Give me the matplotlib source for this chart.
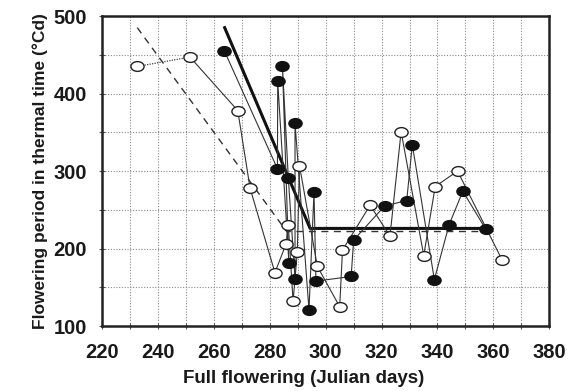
import matplotlib
matplotlib.use("Agg")
import matplotlib.pyplot as plt
from matplotlib.path import Path
from matplotlib.transforms import Affine2D
import numpy as np

plt.rcParams['font.family'] = ['Liberation Sans', 'DejaVu Sans']

# open circles (one series, joined in order)
open_day = [232.5, 251.4, 268.5, 272.9, 281.8, 285.8, 286.6, 288.3, 289.8, 290.6,
            297.0, 305.0, 306.0, 315.9, 323.0, 327.0, 335.1, 339.2, 347.2, 363.2]
open_tt = [435, 447, 378, 278, 169, 206, 230, 132, 195, 307,
           177, 125, 198, 256, 216, 351, 191, 280, 300, 185]

# filled circles
fill_day = [263.7, 282.7, 282.8, 286.8, 284.5, 286.6, 289.0, 289.0, 294.0, 295.8,
            296.5, 309.1, 310.0, 321.1, 329.0, 331.0, 338.9, 344.2, 349.1, 357.3]
fill_tt = [455, 303, 416, 182, 435, 291, 161, 362, 121, 273,
           158, 164, 211, 255, 262, 334, 160, 231, 274, 225]

# fitted broken lines
thick_day = [263.8, 294.4, 357.3]
thick_tt = [485, 226, 226]
dash_day = [232.5, 286.0, 361.0]
dash_tt = [485, 222, 222]

x_ticks = [220, 240, 260, 280, 300, 320, 340, 360, 380]
y_ticks = [100, 200, 300, 400, 500]

# horizontally stretched circle marker
ell = Path.unit_circle().transformed(Affine2D().scale(1.35, 1.0))

fig = plt.figure(figsize=(5.75, 3.91), dpi=100)
ax = fig.add_axes([0.178, 0.166, 0.777, 0.793])

ax.set_xlim(220, 380)
ax.set_ylim(100, 500)
ax.set_xticks(np.arange(220, 381, 10), minor=True)
ax.set_yticks(np.arange(100, 501, 50), minor=True)
ax.set_xticks(x_ticks)
ax.set_yticks(y_ticks)
ax.grid(True, which='both', color='#8a8a8a', linestyle=(0, (1, 1.5)), linewidth=0.8)
ax.set_axisbelow(True)

ax.plot(dash_day, dash_tt, color='#333333', linestyle=(0, (5, 4)), linewidth=1.0, zorder=2)
ax.plot(thick_day, thick_tt, color='#111111', linewidth=2.2, zorder=2)

# first open pair joined by a dotted line
ax.plot(open_day[:2], open_tt[:2], color='#444444', linestyle=(0, (1, 1)), linewidth=0.9, zorder=3)
ax.plot(open_day[1:], open_tt[1:], color='#333333', linewidth=0.8, zorder=3)
ax.plot(fill_day, fill_tt, color='#333333', linewidth=0.8, zorder=3)

ax.plot(open_day, open_tt, linestyle='none', marker=ell, markersize=9.5,
        markerfacecolor='white', markeredgecolor='#222222', markeredgewidth=1.0, zorder=4)
ax.plot(fill_day, fill_tt, linestyle='none', marker=ell, markersize=9.5,
        markerfacecolor='#111111', markeredgecolor='#111111', markeredgewidth=1.0, zorder=4)

for s in ax.spines.values():
    s.set_linewidth(1.8)
    s.set_color('#222222')

ax.tick_params(which='both', direction='inout', length=4, width=0.8, color='#555555')
ax.tick_params(which='major', pad=9)
ax.tick_params(axis='x', which='major', pad=10)
for lab in ax.get_xticklabels() + ax.get_yticklabels():
    lab.set_fontsize(14.5)
    lab.set_fontweight('bold')
    lab.set_color('#1a1a1a')

ax.set_xlabel('Full flowering (Julian days)', fontsize=13.5, fontweight='bold',
              color='#1a1a1a')
ax.xaxis.set_label_coords(0.45, -0.142)
ax.set_ylabel('Flowering period in thermal time (°Cd)', fontsize=12.5, fontweight='bold',
              color='#1a1a1a', labelpad=4)

fig.savefig('out.png', dpi=100)
